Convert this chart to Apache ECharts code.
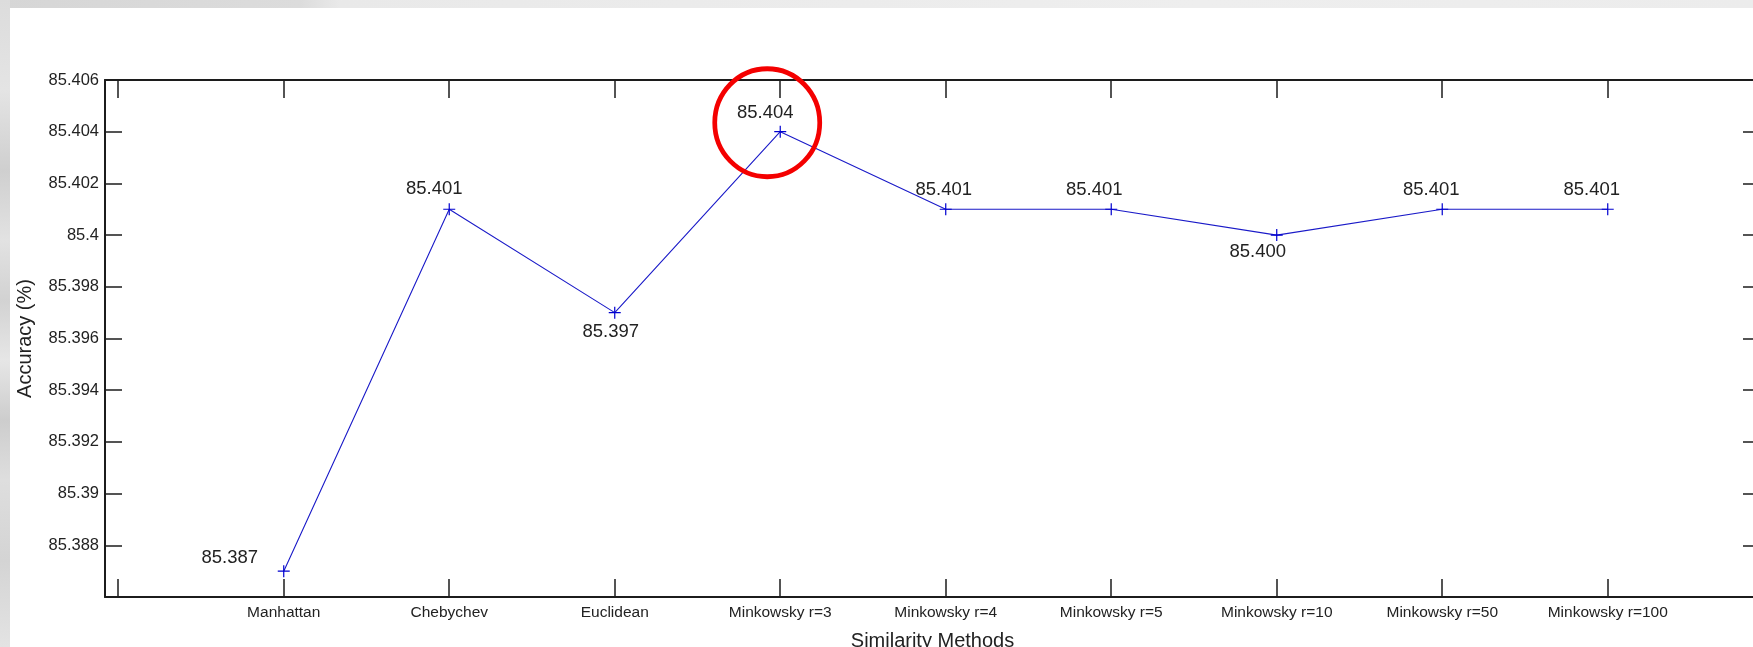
<!DOCTYPE html>
<html>
<head>
<meta charset="utf-8">
<title>Accuracy by Similarity Method</title>
<script src="https://cdn.jsdelivr.net/npm/echarts@6/dist/echarts.min.js"></script>
<style>
  html, body { margin: 0; padding: 0; background: #ffffff; }
  #page { position: relative; width: 1753px; height: 647px; overflow: hidden; background: #ffffff; }
  #edgeTop {
    position: absolute; left: 0; top: 0; width: 1753px; height: 8px;
    background: linear-gradient(to right, #d6d6d6 0px, #dcdcdc 300px, #e9e9e9 340px, #eeeeee 1200px, #ececec 1753px);
  }
  #edgeLeft {
    position: absolute; left: 0; top: 0; width: 10px; height: 647px;
    background: linear-gradient(to bottom, #dcdcdc 0px, #e4e4e4 90px, #cfcfcf 170px, #e2e2e2 240px,
      #d2d2d2 300px, #e6e6e6 360px, #cdcdcd 420px, #dedede 480px, #d4d4d4 560px, #e3e3e3 647px);
  }
  #chart { position: absolute; left: 0; top: 0; width: 1753px; height: 647px; }
</style>
</head>
<body>
<div id="page">
  <div id="edgeTop"></div>
  <div id="edgeLeft"></div>
  <div id="chart"></div>
</div>
<script>
// Similarity methods compared on the x axis
const categories = [
  'Manhattan', 'Chebychev', 'Euclidean',
  'Minkowsky r=3', 'Minkowsky r=4', 'Minkowsky r=5',
  'Minkowsky r=10', 'Minkowsky r=50', 'Minkowsky r=100'
];

// Classification accuracy (%) for each method
const accuracy = [85.387, 85.401, 85.397, 85.404, 85.401, 85.401, 85.400, 85.401, 85.401];

// Axis ticks
const xTicks = [0, 1, 2, 3, 4, 5, 6, 7, 8, 9];
const yTicks = [85.386, 85.388, 85.390, 85.392, 85.394, 85.396, 85.398, 85.400, 85.402, 85.404, 85.406];
const yTickLabels = ['85.388', '85.39', '85.392', '85.394', '85.396', '85.398', '85.4', '85.402', '85.404', '85.406'];

// Where each value label sits relative to its marker (dx, dy in px)
const labelOffsets = [
  [-54, -13], [-15, -20], [-4, 19], [-15, -19], [-2, -19],
  [-17, -19], [-19, 17], [-11, -19], [-16, -19]
];

const FONT = "'Liberation Sans', Arial, Helvetica, sans-serif";
const AXIS_COLOR = '#1c1c1c';
const TEXT_COLOR = '#222222';
const LINE_COLOR = '#1a1ac8';

const X_MIN = -0.08, X_MAX = 9.92;
const Y_MIN = yTicks[0], Y_MAX = yTicks[yTicks.length - 1];

const labelValues = yTicks.slice(1);

const points = accuracy.map((v, i) => ({
  value: [i + 1, v],
  label: { offset: labelOffsets[i] }
}));

const crossSymbol = 'path://M0,5.4H12V6.6H0Z M5.4,0H6.6V12H5.4Z';

const chart = echarts.init(document.getElementById('chart'), null, { renderer: 'canvas' });

chart.setOption({
  backgroundColor: 'transparent',
  animation: false,
  // the right-hand frame runs just past the edge of the page
  grid: {
    left: 105, top: 80, width: 1655, height: 517,
    containLabel: false, outerBoundsMode: 'none'
  },
  xAxis: [
    {
      type: 'value', position: 'bottom', min: X_MIN, max: X_MAX,
      splitLine: { show: false },
      axisLine: { show: true, onZero: false, lineStyle: { color: AXIS_COLOR, width: 2 } },
      axisTick: { show: true, inside: true, length: 18, customValues: xTicks,
                  lineStyle: { color: AXIS_COLOR, width: 1.5 } },
      axisLabel: {
        show: true, margin: 8, customValues: xTicks.slice(1),
        color: TEXT_COLOR, fontFamily: FONT, fontSize: 15.5,
        formatter: v => categories[Math.round(v) - 1] || ''
      },
      name: 'Similarity Methods', nameLocation: 'middle', nameGap: 34,
      nameTextStyle: { color: TEXT_COLOR, fontFamily: FONT, fontSize: 20 }
    },
    {
      type: 'value', position: 'top', min: X_MIN, max: X_MAX,
      splitLine: { show: false },
      axisLine: { show: true, onZero: false, lineStyle: { color: AXIS_COLOR, width: 2 } },
      axisTick: { show: true, inside: true, length: 18, customValues: xTicks,
                  lineStyle: { color: AXIS_COLOR, width: 1.5 } },
      axisLabel: { show: false }
    }
  ],
  yAxis: [
    {
      type: 'value', position: 'left', min: Y_MIN, max: Y_MAX,
      splitLine: { show: false },
      axisLine: { show: true, onZero: false, lineStyle: { color: AXIS_COLOR, width: 2 } },
      axisTick: { show: true, inside: true, length: 17, customValues: yTicks,
                  lineStyle: { color: AXIS_COLOR, width: 1.5 } },
      axisLabel: {
        show: true, margin: 6, customValues: labelValues,
        color: TEXT_COLOR, fontFamily: FONT, fontSize: 16.5,
        formatter: v => {
          const idx = labelValues.findIndex(t => Math.abs(t - v) < 1e-7);
          return idx >= 0 ? yTickLabels[idx] : '';
        }
      },
      name: 'Accuracy (%)', nameLocation: 'middle', nameGap: 70,
      nameTextStyle: { color: TEXT_COLOR, fontFamily: FONT, fontSize: 20 }
    },
    {
      type: 'value', position: 'right', min: Y_MIN, max: Y_MAX,
      splitLine: { show: false },
      axisLine: { show: true, onZero: false, lineStyle: { color: AXIS_COLOR, width: 2 } },
      axisTick: { show: true, inside: true, length: 17, customValues: yTicks,
                  lineStyle: { color: AXIS_COLOR, width: 1.5 } },
      axisLabel: { show: false }
    }
  ],
  series: [
    {
      type: 'line',
      xAxisIndex: 0, yAxisIndex: 0,
      data: points,
      symbol: crossSymbol,
      symbolSize: [12, 12],
      symbolKeepAspect: false,
      showAllSymbol: true,
      lineStyle: { color: LINE_COLOR, width: 1.1 },
      itemStyle: { color: '#0000d0', borderWidth: 0 },
      label: {
        show: true, position: 'inside',
        align: 'center', verticalAlign: 'middle',
        color: TEXT_COLOR, fontFamily: FONT, fontSize: 18.5,
        formatter: p => p.value[1].toFixed(3)
      },
      emphasis: { disabled: true },
      markPoint: {
        silent: true,
        symbol: 'circle',
        symbolSize: [105, 108],
        symbolOffset: [-13, -9],
        itemStyle: { color: 'rgba(0,0,0,0)', borderColor: '#f40000', borderWidth: 4.8 },
        label: { show: false },
        data: [{ type: 'max', valueDim: 'y' }]
      }
    }
  ]
});
</script>
</body>
</html>
